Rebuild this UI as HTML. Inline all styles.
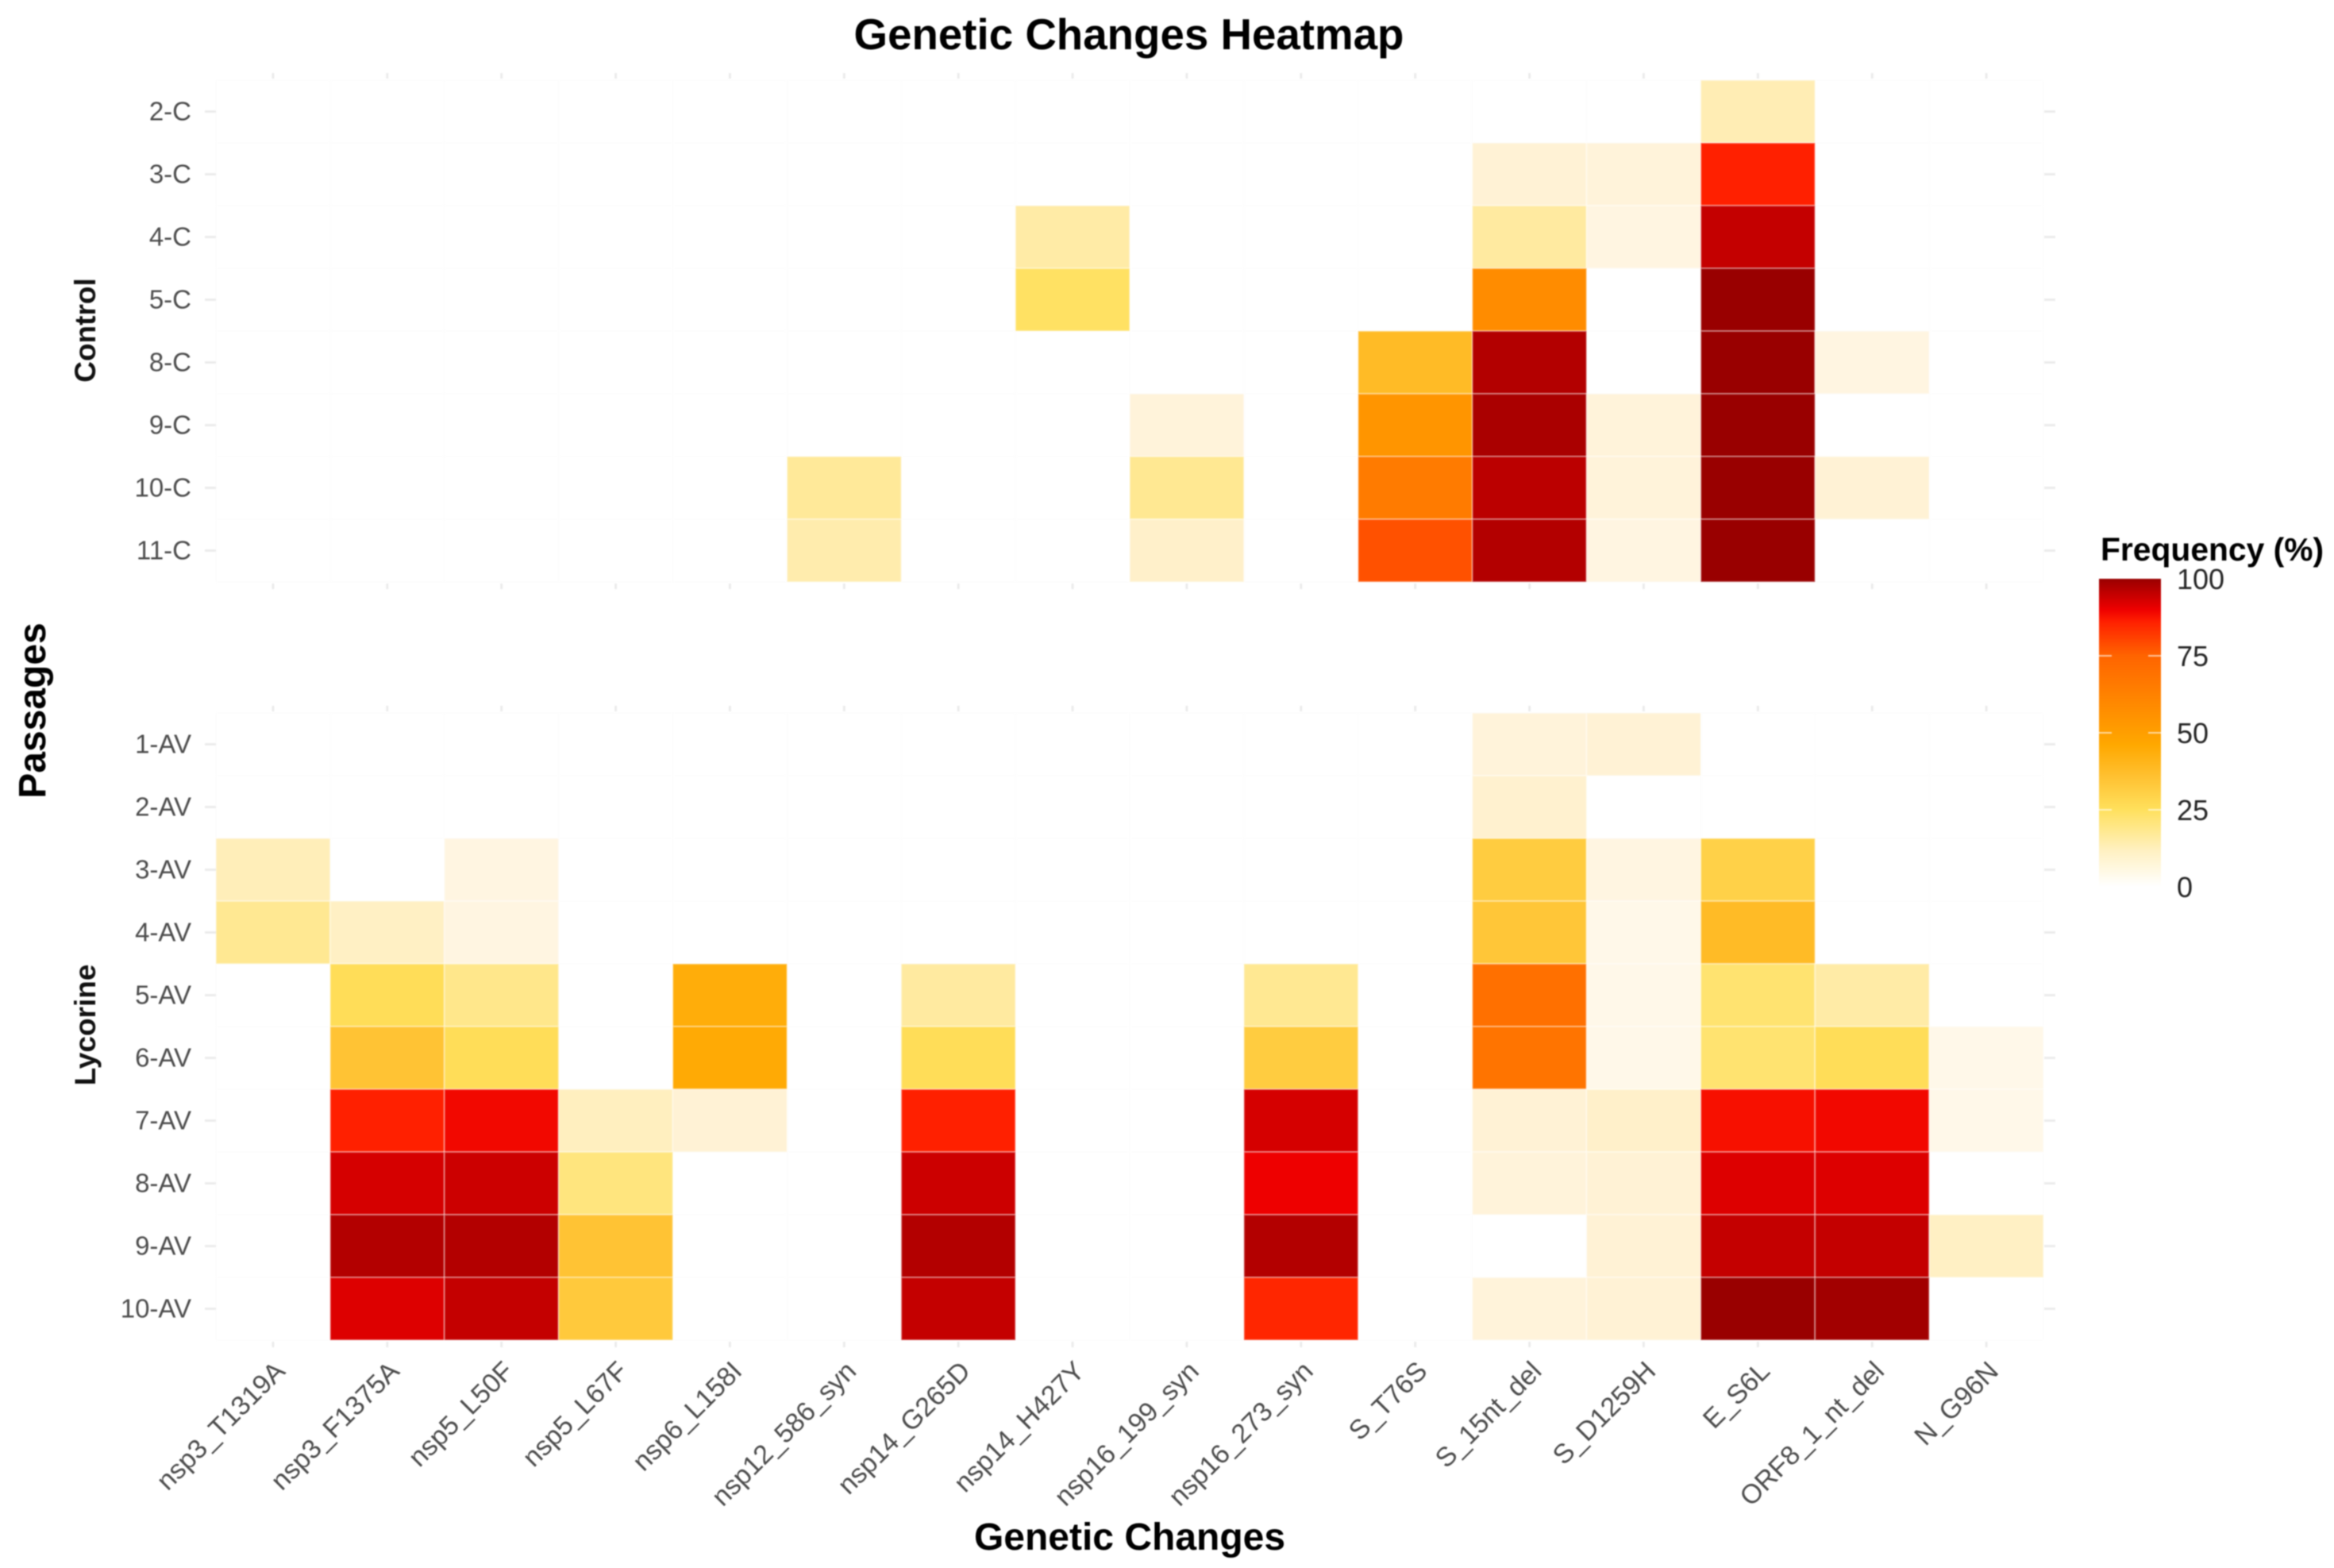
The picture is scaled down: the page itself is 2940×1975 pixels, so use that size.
<!DOCTYPE html>
<html lang="en">
<head>
<meta charset="utf-8">
<title>Genetic Changes Heatmap</title>
<style>
  html, body { margin: 0; padding: 0; background: #ffffff; }
  #chart { display: block; width: 2940px; height: 1975px; filter: blur(0.9px); font-family: "Liberation Sans", Arial, sans-serif; }
</style>
</head>
<body>
<svg id="chart" xmlns="http://www.w3.org/2000/svg" width="2940" height="1975" viewBox="0 0 2940 1975">
  <defs>
    <linearGradient id="legendGradient" x1="0" y1="1" x2="0" y2="0">
      <stop offset="0" stop-color="#ffffff"/>
      <stop offset="0.12" stop-color="#fff0c0"/>
      <stop offset="0.25" stop-color="#ffe05c"/>
      <stop offset="0.36" stop-color="#ffc030"/>
      <stop offset="0.46" stop-color="#ffa800"/>
      <stop offset="0.75" stop-color="#ff6400"/>
      <stop offset="0.86" stop-color="#ff2000"/>
      <stop offset="0.90" stop-color="#ee0000"/>
      <stop offset="1" stop-color="#990000"/>
    </linearGradient>
  </defs>
  <text x="1422" y="62" font-size="54.7" font-weight="bold" text-anchor="middle" fill="#000">Genetic Changes Heatmap</text>
  <text x="1423" y="1952" font-size="48" font-weight="bold" text-anchor="middle" fill="#000">Genetic Changes</text>
  <text transform="translate(57,895) rotate(-90)" font-size="48" font-weight="bold" text-anchor="middle" fill="#000">Passages</text>
  <text transform="translate(120,416) rotate(-90)" font-size="37" font-weight="bold" text-anchor="middle" fill="#111">Control</text>
  <text transform="translate(120,1291) rotate(-90)" font-size="37" font-weight="bold" text-anchor="middle" fill="#111">Lycorine</text>
  <g id="plot"></g>
  <g id="legend">
    <text x="2646" y="706" font-size="40.8" font-weight="bold" fill="#000">Frequency (%)</text>
    <rect x="2644" y="729" width="78" height="388" fill="url(#legendGradient)"/>
  </g>
</svg>
<script>
const categories = ["nsp3_T1319A","nsp3_F1375A","nsp5_L50F","nsp5_L67F","nsp6_L158I","nsp12_586_syn","nsp14_G265D","nsp14_H427Y","nsp16_199_syn","nsp16_273_syn","S_T76S","S_15nt_del","S_D1259H","E_S6L","ORF8_1_nt_del","N_G96N"];
const controlPassages = ["2-C","3-C","4-C","5-C","8-C","9-C","10-C","11-C"];
const lycorinePassages = ["1-AV","2-AV","3-AV","4-AV","5-AV","6-AV","7-AV","8-AV","9-AV","10-AV"];
const controlValues = [
  [0,0,0,0,0,0,0,0,0,0,0,0,0,12,0,0],
  [0,0,0,0,0,0,0,0,0,0,0,6,5,86,0,0],
  [0,0,0,0,0,0,0,14,0,0,0,15,4,95,0,0],
  [0,0,0,0,0,0,0,24,0,0,0,58,0,100,0,0],
  [0,0,0,0,0,0,0,0,0,0,38,97,0,100,4,0],
  [0,0,0,0,0,0,0,0,5,0,54,98,5,100,0,0],
  [0,0,0,0,0,16,0,0,17,0,65,96,5,100,6,0],
  [0,0,0,0,0,13,0,0,8,0,78,97,4,100,0,0]
];
const lycorineValues = [
  [0,0,0,0,0,0,0,0,0,0,0,5,6,0,0,0],
  [0,0,0,0,0,0,0,0,0,0,0,7,0,0,0,0],
  [11,0,4,0,0,0,0,0,0,0,0,32,4,30,0,0],
  [17,9,4,0,0,0,0,0,0,0,0,34,3,38,0,0],
  [0,26,18,0,44,0,15,0,0,17,0,70,3,22,14,0],
  [0,35,26,0,45,0,26,0,0,32,0,68,3,22,26,3],
  [0,86,89,10,6,0,86,0,0,93,0,6,8,88,89,3],
  [0,93,94,20,0,0,94,0,0,90,0,5,6,92,92,0],
  [0,97,97,35,0,0,97,0,0,97,0,0,6,95,95,9],
  [0,92,95,33,0,0,95,0,0,85,0,5,6,100,99,0]
];
const legendTicks = [0,25,50,75,100];

const SVG_NS = "http://www.w3.org/2000/svg";
const plotLeft = 272, plotRight = 2574;
const controlTop = 101, lycorineTop = 898, rowHeight = 79;
const legendBottom = 1117, legendTop = 729;
const colorStops = [[0,255,255,255],[5,255,243,218],[12,255,237,180],[25,255,224,92],[36,255,192,48],[46,255,168,0],[75,255,100,0],[86,255,32,0],[90,238,0,0],[100,153,0,0]];

function xScale(i) { return plotLeft + i * (plotRight - plotLeft) / categories.length; }
function yScale(top, r) { return top + r * rowHeight; }
function legendY(v) { return legendBottom - (v / 100) * (legendBottom - legendTop); }
function colorFor(v) {
  if (v <= 0) return "none";
  const c = Math.min(v, 100);
  for (let i = 1; i < colorStops.length; i++) {
    const a = colorStops[i - 1], b = colorStops[i];
    if (c <= b[0]) {
      const t = (c - a[0]) / (b[0] - a[0]);
      return "rgb(" + [1,2,3].map(function (k) { return Math.round(a[k] + (b[k] - a[k]) * t); }).join(",") + ")";
    }
  }
  return "#990000";
}
function make(tag, attrs, parent) {
  const el = document.createElementNS(SVG_NS, tag);
  Object.keys(attrs).forEach(function (k) { el.setAttribute(k, attrs[k]); });
  parent.appendChild(el);
  return el;
}

const plot = document.getElementById("plot");
const legend = document.getElementById("legend");
const colWidth = xScale(1) - xScale(0);

function drawPanel(panelKey, top, passages, values) {
  const bottom = yScale(top, passages.length);
  // faint grid
  for (let i = 0; i <= categories.length; i++) {
    const g = make("line", { x1: xScale(i), x2: xScale(i), y1: top, y2: bottom, stroke: "#fdfdfd", "stroke-width": 2 }, plot);
    
    
  }
  for (let r = 0; r <= passages.length; r++) {
    const g = make("line", { x1: plotLeft, x2: plotRight, y1: yScale(top, r), y2: yScale(top, r), stroke: "#fdfdfd", "stroke-width": 2 }, plot);
    
    
  }
  // cells
  passages.forEach(function (p, r) {
    categories.forEach(function (c, i) {
      const v = values[r][i];
      const cell = make("rect", { x: xScale(i), y: yScale(top, r), width: colWidth, height: rowHeight, fill: colorFor(v), stroke: v > 0 ? "rgba(255,255,255,0.35)" : "none", "stroke-width": 2 }, plot);
      
      
    });
  });
  // y ticks & labels
  passages.forEach(function (p, r) {
    const y = yScale(top, r) + rowHeight / 2;
    const t1 = make("line", { x1: 258, x2: 272, y1: y, y2: y, stroke: "#ececec", "stroke-width": 3 }, plot);
    
    
    const t2 = make("line", { x1: 2575, x2: 2589, y1: y, y2: y, stroke: "#ececec", "stroke-width": 3 }, plot);
    
    
    const lab = make("text", { x: 241, y: y + 11, "font-size": 33, "text-anchor": "end", fill: "#4d4d4d" }, plot);
    lab.textContent = p;
    
    
  });
  // x ticks on both panel edges
  categories.forEach(function (c, i) {
    const x = xScale(i) + colWidth / 2;
    [[top - 9, top - 2], [bottom + 2, bottom + 9]].forEach(function (pair) {
      const t = make("line", { x1: x, x2: x, y1: pair[0], y2: pair[1], stroke: "#ececec", "stroke-width": 3 }, plot);
      
      
    });
  });
}
drawPanel("control", controlTop, controlPassages, controlValues);
drawPanel("lycorine", lycorineTop, lycorinePassages, lycorineValues);

categories.forEach(function (c, i) {
  const x = xScale(i) + colWidth / 2 + 17;
  const y = 1729;
  const lab = make("text", { transform: "translate(" + x + "," + y + ") rotate(-45)", "font-size": 34, "text-anchor": "end", fill: "#4d4d4d" }, plot);
  lab.textContent = c;
  
  
});

legendTicks.forEach(function (v) {
  const y = legendY(v);
  if (v > 0 && v < 100) {
    const a = make("line", { x1: 2644, x2: 2660, y1: y, y2: y, stroke: "rgba(255,255,255,0.6)", "stroke-width": 2 }, legend);
    
    
    const b = make("line", { x1: 2706, x2: 2722, y1: y, y2: y, stroke: "rgba(255,255,255,0.6)", "stroke-width": 2 }, legend);
    
    
  }
  const lab = make("text", { x: 2742, y: y + 13, "font-size": 36, fill: "#262626" }, legend);
  lab.textContent = String(v);
  
  
});
</script>
</body>
</html>
